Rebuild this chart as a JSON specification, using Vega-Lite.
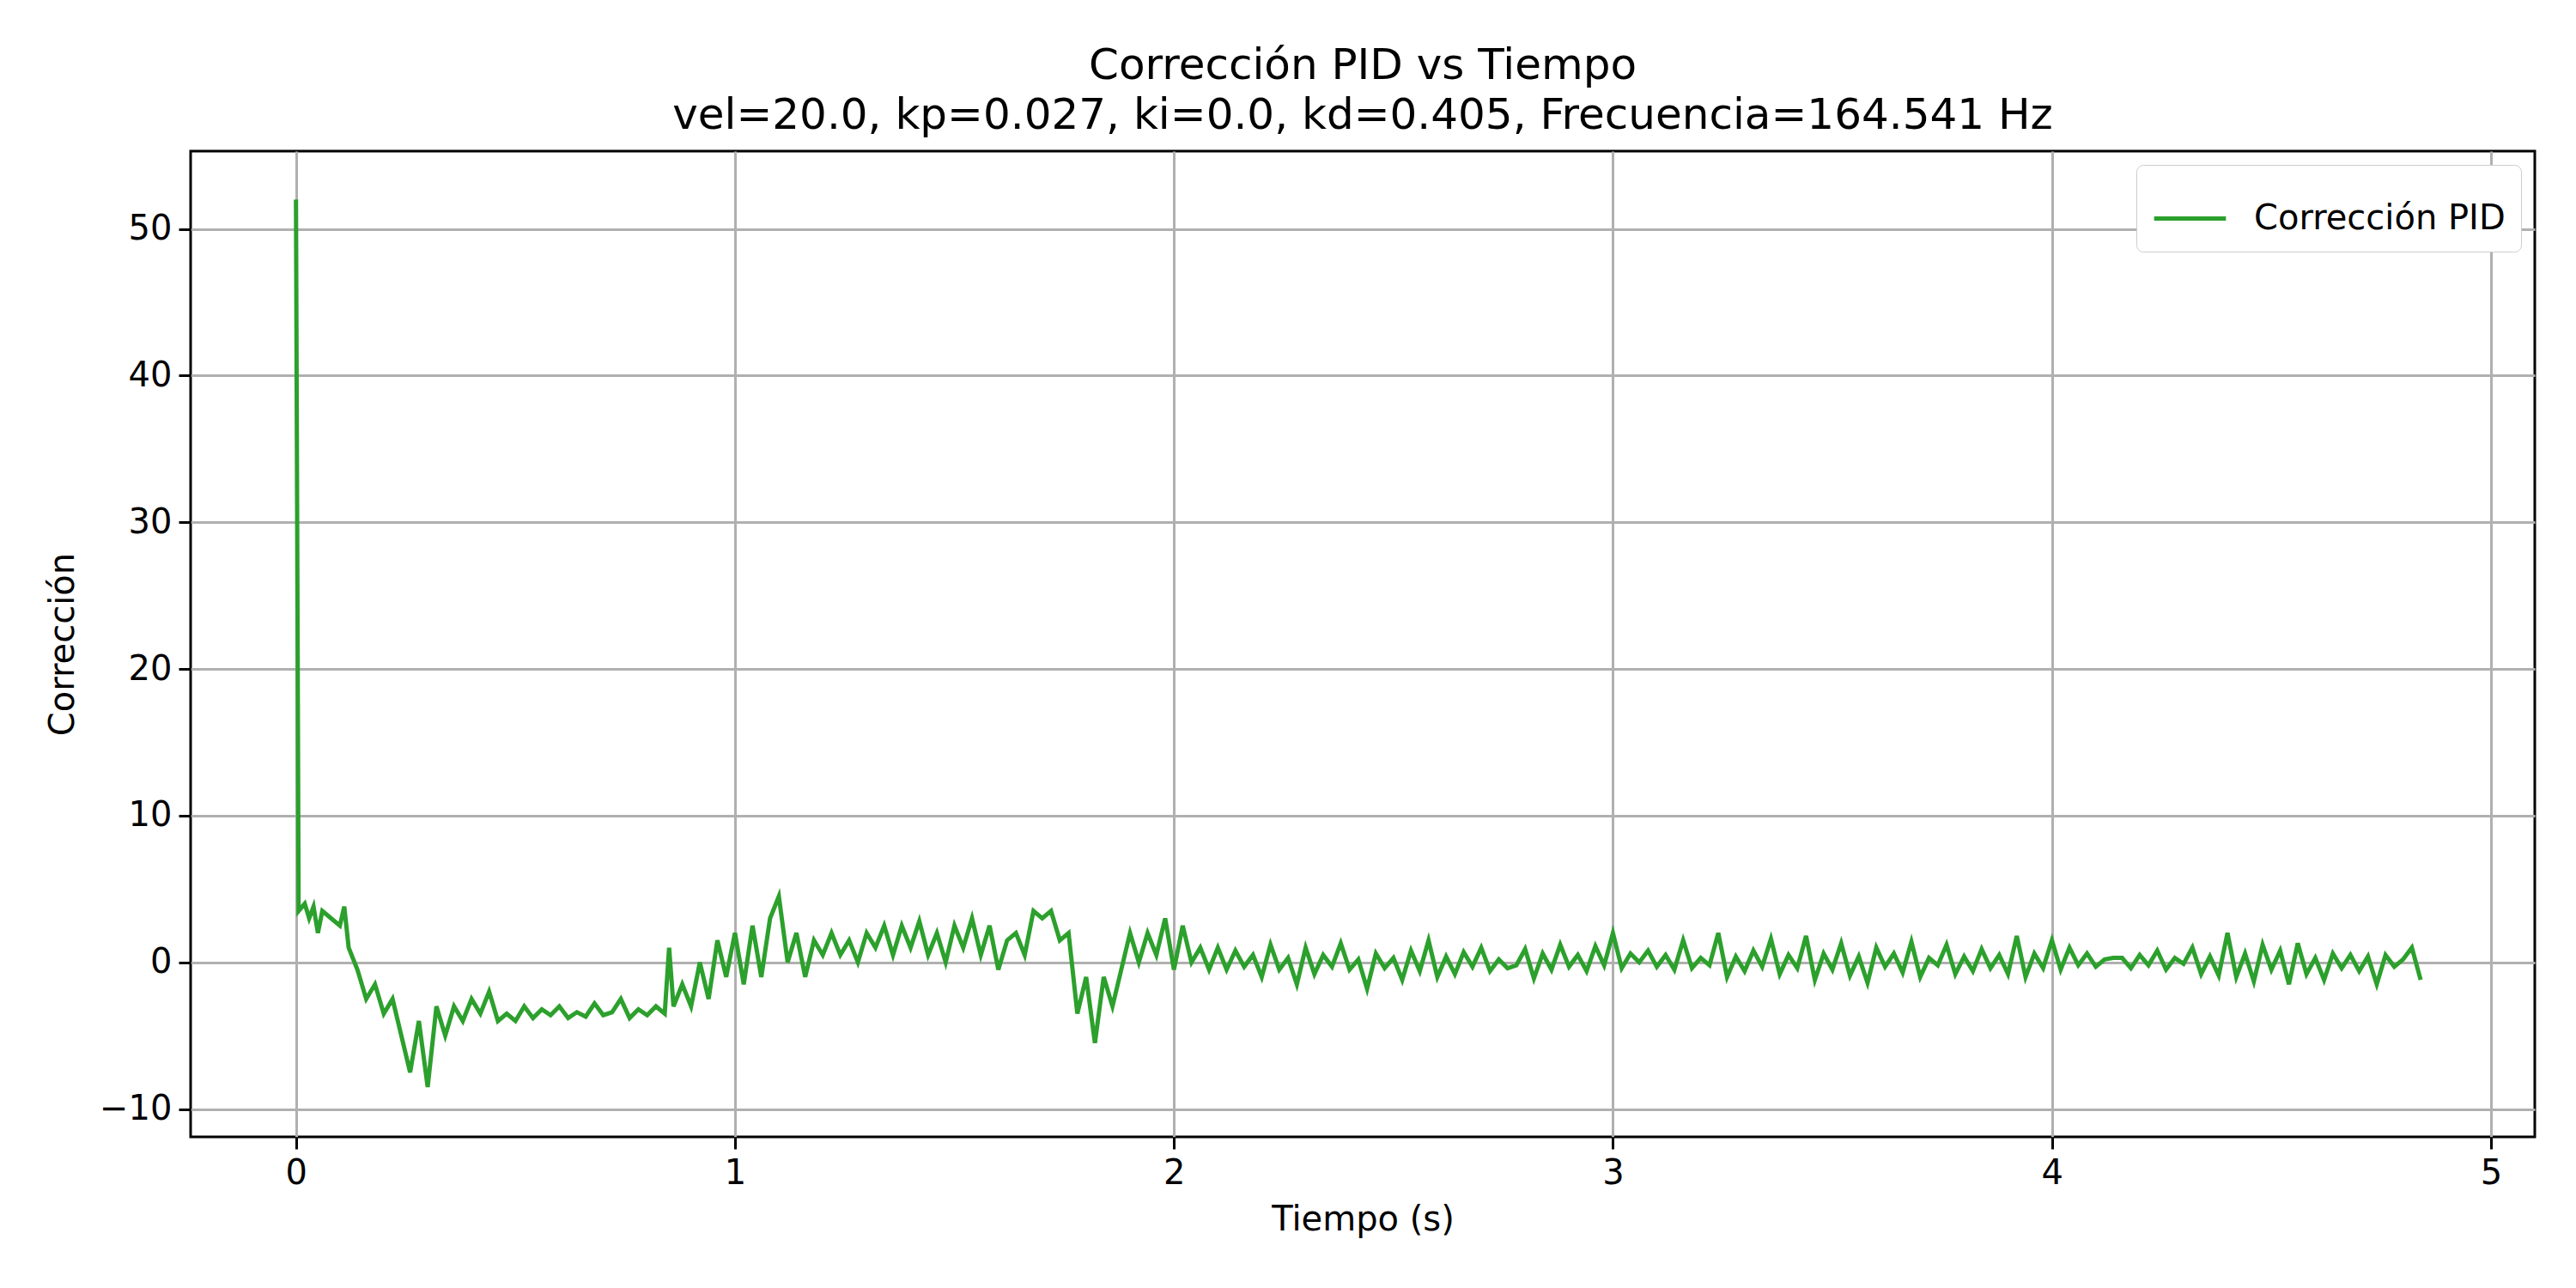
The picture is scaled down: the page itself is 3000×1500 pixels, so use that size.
{"$schema":"https://vega.github.io/schema/vega-lite/v6.json","autosize":"none","width":2730,"height":1148,"padding":{"left":222,"top":176,"right":48,"bottom":176},"background":"white",
"title":{"text":["Corrección PID vs Tiempo","vel=20.0, kp=0.027, ki=0.0, kd=0.405, Frecuencia=164.541 Hz"],"font":"DejaVu Sans","fontSize":50,"fontWeight":"normal","lineHeight":58,"offset":16,"color":"black"},
"config":{"view":{"stroke":"black","strokeWidth":3},"axis":{"labelFont":"DejaVu Sans","titleFont":"DejaVu Sans","labelFontSize":40,"titleFontSize":40,"titleFontWeight":"normal","labelColor":"black","titleColor":"black","gridColor":"#b0b0b0","gridWidth":3,"tickColor":"black","tickWidth":3,"tickSize":14,"domain":false,"labelPadding":8}},
"data":{"values":[
{"t":0,"v":52},{"t":0.006,"v":3.5},{"t":0.02,"v":4},{"t":0.03,"v":3},{"t":0.04,"v":3.8},{"t":0.05,"v":2},{"t":0.06,"v":3.5},{"t":0.08,"v":3},{"t":0.1,"v":2.5},{"t":0.11,"v":3.8},
{"t":0.12,"v":1},{"t":0.14,"v":-0.5},{"t":0.16,"v":-2.5},{"t":0.18,"v":-1.5},{"t":0.2,"v":-3.5},{"t":0.22,"v":-2.5},{"t":0.24,"v":-5},{"t":0.26,"v":-7.5},{"t":0.28,"v":-4},{"t":0.3,"v":-8.5},{"t":0.32,"v":-3},{"t":0.34,"v":-5},{"t":0.36,"v":-3},{"t":0.38,"v":-4},{"t":0.4,"v":-2.5},{"t":0.42,"v":-3.5},{"t":0.44,"v":-2},{"t":0.46,"v":-4},{"t":0.48,"v":-3.5},{"t":0.5,"v":-4},{"t":0.52,"v":-3},{"t":0.54,"v":-3.8},{"t":0.56,"v":-3.2},{"t":0.58,"v":-3.6},{"t":0.6,"v":-3},{"t":0.62,"v":-3.8},{"t":0.64,"v":-3.4},{"t":0.66,"v":-3.7},{"t":0.68,"v":-2.8},{"t":0.7,"v":-3.6},{"t":0.72,"v":-3.4},{"t":0.74,"v":-2.5},{"t":0.76,"v":-3.8},{"t":0.78,"v":-3.2},{"t":0.8,"v":-3.6},{"t":0.82,"v":-3},{"t":0.84,"v":-3.5},{"t":0.85,"v":1},{"t":0.86,"v":-3},{"t":0.88,"v":-1.5},{"t":0.9,"v":-3},{"t":0.92,"v":0},{"t":0.94,"v":-2.5},{"t":0.96,"v":1.5},{"t":0.98,"v":-1},{"t":1.0,"v":2},{"t":1.02,"v":-1.5},{"t":1.04,"v":2.5},{"t":1.06,"v":-1},{"t":1.08,"v":3},{"t":1.1,"v":4.5},{"t":1.12,"v":0},{"t":1.14,"v":2},{"t":1.16,"v":-1},{"t":1.18,"v":1.5},{"t":1.2,"v":0.5},{"t":1.22,"v":2},{"t":1.24,"v":0.5},{"t":1.26,"v":1.5},{"t":1.28,"v":0},{"t":1.3,"v":2},{"t":1.32,"v":1},{"t":1.34,"v":2.5},{"t":1.36,"v":0.5},{"t":1.38,"v":2.5},{"t":1.4,"v":1},{"t":1.42,"v":2.8},{"t":1.44,"v":0.5},{"t":1.46,"v":2},{"t":1.48,"v":0},{"t":1.5,"v":2.5},{"t":1.52,"v":1},{"t":1.54,"v":3},{"t":1.56,"v":0.5},{"t":1.58,"v":2.5},{"t":1.6,"v":-0.5},{"t":1.62,"v":1.5},{"t":1.64,"v":2},{"t":1.66,"v":0.5},{"t":1.68,"v":3.5},{"t":1.7,"v":3},{"t":1.72,"v":3.5},{"t":1.74,"v":1.5},{"t":1.76,"v":2},{"t":1.78,"v":-3.5},{"t":1.8,"v":-1},{"t":1.82,"v":-5.5},{"t":1.84,"v":-1},{"t":1.86,"v":-3},{"t":1.88,"v":-0.5},{"t":1.9,"v":2},{"t":1.92,"v":0},{"t":1.94,"v":2},{"t":1.96,"v":0.5},{"t":1.98,"v":3},{"t":2.0,"v":-0.5},{"t":2.02,"v":2.5},{"t":2.04,"v":0},{"t":2.06,"v":1},{"t":2.08,"v":-0.5},
{"t":2.1,"v":1},{"t":2.12,"v":-0.5},{"t":2.14,"v":0.8},{"t":2.16,"v":-0.3},{"t":2.18,"v":0.5},{"t":2.2,"v":-1},{"t":2.22,"v":1.2},{"t":2.24,"v":-0.5},{"t":2.26,"v":0.3},{"t":2.28,"v":-1.5},{"t":2.3,"v":1},{"t":2.32,"v":-0.8},{"t":2.34,"v":0.5},{"t":2.36,"v":-0.3},{"t":2.38,"v":1.3},{"t":2.4,"v":-0.5},{"t":2.42,"v":0.2},{"t":2.44,"v":-1.8},{"t":2.46,"v":0.6},{"t":2.48,"v":-0.4},{"t":2.5,"v":0.3},{"t":2.52,"v":-1.2},{"t":2.54,"v":0.8},{"t":2.56,"v":-0.6},{"t":2.58,"v":1.5},{"t":2.6,"v":-1},{"t":2.62,"v":0.4},{"t":2.64,"v":-0.8},{"t":2.66,"v":0.7},{"t":2.68,"v":-0.3},{"t":2.7,"v":1},{"t":2.72,"v":-0.6},{"t":2.74,"v":0.2},{"t":2.76,"v":-0.4},{"t":2.78,"v":-0.2},{"t":2.8,"v":0.9},{"t":2.82,"v":-1.1},{"t":2.84,"v":0.6},{"t":2.86,"v":-0.5},{"t":2.88,"v":1.2},{"t":2.9,"v":-0.3},{"t":2.92,"v":0.5},{"t":2.94,"v":-0.6},{"t":2.96,"v":1.1},{"t":2.98,"v":-0.2},{"t":3.0,"v":2},{"t":3.02,"v":-0.4},{"t":3.04,"v":0.6},{"t":3.06,"v":0},{"t":3.08,"v":0.8},{"t":3.1,"v":-0.3},{"t":3.12,"v":0.5},{"t":3.14,"v":-0.5},{"t":3.16,"v":1.5},{"t":3.18,"v":-0.4},{"t":3.2,"v":0.3},{"t":3.22,"v":-0.2},{"t":3.24,"v":2},{"t":3.26,"v":-1},{"t":3.28,"v":0.4},{"t":3.3,"v":-0.6},{"t":3.32,"v":0.8},{"t":3.34,"v":-0.3},{"t":3.36,"v":1.6},{"t":3.38,"v":-0.8},{"t":3.4,"v":0.5},{"t":3.42,"v":-0.4},{"t":3.44,"v":1.8},{"t":3.46,"v":-1.2},{"t":3.48,"v":0.6},{"t":3.5,"v":-0.5},{"t":3.52,"v":1.3},{"t":3.54,"v":-0.9},{"t":3.56,"v":0.4},{"t":3.58,"v":-1.4},{"t":3.6,"v":1},{"t":3.62,"v":-0.3},{"t":3.64,"v":0.6},{"t":3.66,"v":-0.7},{"t":3.68,"v":1.4},{"t":3.7,"v":-1},{"t":3.72,"v":0.3},{"t":3.74,"v":-0.2},{"t":3.76,"v":1.2},{"t":3.78,"v":-0.8},{"t":3.8,"v":0.4},{"t":3.82,"v":-0.6},{"t":3.84,"v":0.9},{"t":3.86,"v":-0.4},{"t":3.88,"v":0.5},{"t":3.9,"v":-0.8},{"t":3.92,"v":1.8},{"t":3.94,"v":-1},{"t":3.96,"v":0.6},{"t":3.98,"v":-0.4},{"t":4.0,"v":1.5},{"t":4.02,"v":-0.5},{"t":4.04,"v":1},{"t":4.06,"v":-0.2},{"t":4.08,"v":0.6},{"t":4.1,"v":-0.3},{"t":4.12,"v":0.2},{"t":4.14,"v":0.3},{"t":4.16,"v":0.3},{"t":4.18,"v":-0.4},{"t":4.2,"v":0.5},{"t":4.22,"v":-0.2},{"t":4.24,"v":0.8},{"t":4.26,"v":-0.5},{"t":4.28,"v":0.3},{"t":4.3,"v":-0.1},{"t":4.32,"v":1},{"t":4.34,"v":-0.8},{"t":4.36,"v":0.4},{"t":4.38,"v":-0.9},{"t":4.4,"v":2},{"t":4.42,"v":-1},{"t":4.44,"v":0.6},{"t":4.46,"v":-1.3},{"t":4.48,"v":1.2},{"t":4.5,"v":-0.5},{"t":4.52,"v":0.8},{"t":4.54,"v":-1.5},{"t":4.56,"v":1.3},{"t":4.58,"v":-0.8},{"t":4.6,"v":0.3},{"t":4.62,"v":-1.2},{"t":4.64,"v":0.6},{"t":4.66,"v":-0.4},{"t":4.68,"v":0.5},{"t":4.7,"v":-0.6},{"t":4.72,"v":0.4},{"t":4.74,"v":-1.5},{"t":4.76,"v":0.5},{"t":4.78,"v":-0.3},{"t":4.8,"v":0.2},{"t":4.82,"v":1},{"t":4.84,"v":-1.2}
]},
"transform":[{"calculate":"'Corrección PID'","as":"serie"}],
"mark":{"type":"line","strokeWidth":5,"clip":true},
"encoding":{
"x":{"field":"t","type":"quantitative","scale":{"domain":[-0.24,5.1],"nice":false,"zero":false},"axis":{"values":[0,1,2,3,4,5],"title":"Tiempo (s)","titlePadding":14,"labelFlush":false}},
"y":{"field":"v","type":"quantitative","scale":{"domain":[-11.9,55.3],"nice":false,"zero":false},"axis":{"values":[-10,0,10,20,30,40,50],"title":"Corrección","titlePadding":22,"labelExpr":"replace(datum.label,'-','\u2212')"}},
"color":{"field":"serie","type":"nominal","scale":{"range":["#2ca02c"]},"legend":{"title":null,"orient":"top-right","offset":16,"labelFont":"DejaVu Sans","labelFontSize":40,"labelLimit":1000,"labelColor":"black","symbolType":"stroke","symbolStrokeWidth":5,"symbolSize":7000,"strokeColor":"#cccccc","fillColor":"white","padding":18,"cornerRadius":8,"labelOffset":30}}
}}
